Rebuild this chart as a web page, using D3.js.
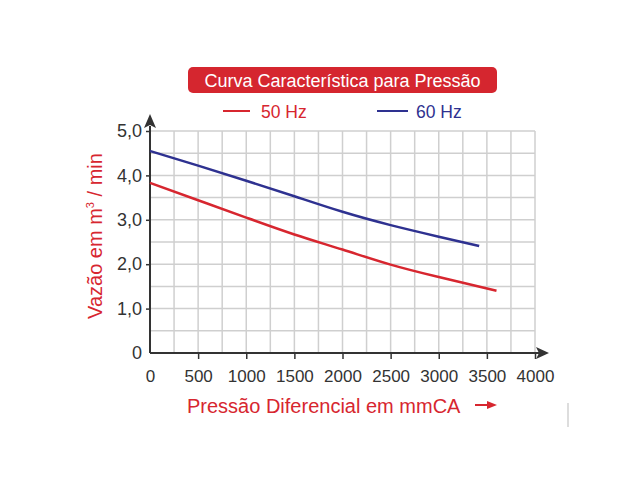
<!DOCTYPE html>
<html>
<head>
<meta charset="utf-8">
<script src="https://cdn.jsdelivr.net/npm/d3@7"></script>
<style>
	body { margin: 0; background: #fff; }
	svg { display: block; font-family: "Liberation Sans", Arial, sans-serif; }
</style>
</head>
<body>
<svg id="chart" width="640" height="480"></svg>
<script>
// values
const pressure50 = [0, 500, 1000, 1500, 2000, 2500, 3000, 3600];
const flow50 = [3.83, 3.44, 3.05, 2.67, 2.33, 1.99, 1.71, 1.40];
const pressure60 = [0, 500, 1000, 1500, 2000, 2500, 3000, 3420];
const flow60 = [4.55, 4.22, 3.88, 3.53, 3.18, 2.88, 2.62, 2.41];

const xTicks = [0, 500, 1000, 1500, 2000, 2500, 3000, 3500, 4000];
const yTicks = [0, 1, 2, 3, 4, 5];
const yTickLabels = ["0", "1,0", "2,0", "3,0", "4,0", "5,0"];

const red = "#d7262f";
const blue = "#2e3190";
const ink = "#333";

let svg = d3.select("#chart");

let x = d3.scaleLinear().domain([0, 4000]).range([150, 535]);
let y = d3.scaleLinear().domain([0, 5]).range([353, 131]);

// grid
let grid = svg.append("g").attr("stroke", "#cfcfcf").attr("stroke-width", 1.5);
d3.range(250, 4001, 250).forEach(v => {
	grid.append("line")
		.attr("x1", x(v)).attr("x2", x(v))
		.attr("y1", y(0)).attr("y2", y(5));
});
d3.range(0.5, 5.01, 0.5).forEach(v => {
	grid.append("line")
		.attr("x1", x(0)).attr("x2", x(4000))
		.attr("y1", y(v)).attr("y2", y(v));
});

// axes
let xAxis = d3.axisBottom(x).tickValues(xTicks).tickSize(6).tickPadding(11)
	.tickFormat(d3.format("d"));
let yAxis = d3.axisLeft(y).tickValues(yTicks).tickSize(4).tickPadding(4)
	.tickFormat((d, i) => yTickLabels[i]);

let gx = svg.append("g").attr("transform", `translate(0,${y(0)})`).call(xAxis);
let gy = svg.append("g").attr("transform", `translate(${x(0)},0)`).call(yAxis);

[gx, gy].forEach(g => {
	g.select(".domain").remove();
	g.selectAll(".tick line").attr("stroke", ink).attr("stroke-width", 1.5);
	g.selectAll(".tick text")
		.attr("fill", ink)
		.style("font-family", "Liberation Sans, Arial, sans-serif");
});
gx.selectAll(".tick text").style("font-size", "17px");
gy.selectAll(".tick text").style("font-size", "18px");
gx.selectAll(".tick").filter(d => d == 0).select("line").remove();
gy.selectAll(".tick").filter(d => d == 0).select("line").remove();

// axis lines with arrows
svg.append("line")
	.attr("x1", x(0)).attr("x2", 540)
	.attr("y1", y(0)).attr("y2", y(0))
	.attr("stroke", ink).attr("stroke-width", 2);
svg.append("line")
	.attr("x1", x(0)).attr("x2", x(0))
	.attr("y1", y(0)).attr("y2", 126)
	.attr("stroke", ink).attr("stroke-width", 2);
svg.append("path")
	.attr("d", `M549,${y(0)} L536,${y(0) - 6} L539,${y(0)} L536,${y(0) + 6} Z`)
	.attr("fill", ink);
svg.append("path")
	.attr("d", `M${x(0)},114 L${x(0) - 6},128 L${x(0)},125 L${x(0) + 6},128 Z`)
	.attr("fill", ink);

// curves
let line = d3.line()
	.x(d => x(d[0]))
	.y(d => y(d[1]))
	.curve(d3.curveNatural);

svg.append("path")
	.datum(d3.zip(pressure50, flow50))
	.attr("d", line)
	.attr("fill", "none")
	.attr("stroke", red)
	.attr("stroke-width", 2.5);

svg.append("path")
	.datum(d3.zip(pressure60, flow60))
	.attr("d", line)
	.attr("fill", "none")
	.attr("stroke", blue)
	.attr("stroke-width", 2.5);

// title box
svg.append("rect")
	.attr("x", 188).attr("y", 67)
	.attr("width", 309).attr("height", 26)
	.attr("rx", 5)
	.attr("fill", "#d5262f");
svg.append("text")
	.attr("x", 342.5).attr("y", 86.5)
	.attr("text-anchor", "middle")
	.attr("fill", "#fff")
	.style("font-size", "18px")
	.text("Curva Característica para Pressão");

// legend
svg.append("line")
	.attr("x1", 223).attr("x2", 250).attr("y1", 111).attr("y2", 111)
	.attr("stroke", red).attr("stroke-width", 2);
svg.append("text")
	.attr("x", 261).attr("y", 117.5)
	.attr("fill", red)
	.style("font-size", "17.5px")
	.text("50 Hz");
svg.append("line")
	.attr("x1", 377).attr("x2", 408).attr("y1", 111).attr("y2", 111)
	.attr("stroke", blue).attr("stroke-width", 2);
svg.append("text")
	.attr("x", 416).attr("y", 117.5)
	.attr("fill", blue)
	.style("font-size", "17.5px")
	.text("60 Hz");

// axis titles
let yTitle = svg.append("text")
	.attr("transform", "translate(102,236) rotate(-90)")
	.attr("text-anchor", "middle")
	.attr("fill", red)
	.style("font-size", "20px");
yTitle.append("tspan").text("Vazão em m");
yTitle.append("tspan").attr("dy", -8).style("font-size", "11px").text("3");
yTitle.append("tspan").attr("dy", 8).text(" / min");

svg.append("text")
	.attr("x", 187).attr("y", 413)
	.attr("fill", red)
	.style("font-size", "20px")
	.text("Pressão Diferencial em mmCA");
svg.append("line")
	.attr("x1", 475).attr("x2", 489).attr("y1", 405).attr("y2", 405)
	.attr("stroke", red).attr("stroke-width", 2);
svg.append("path")
	.attr("d", "M497,405 L487,401 L487,409 Z")
	.attr("fill", red);

// small stray mark at the right
svg.append("line")
	.attr("x1", 568).attr("x2", 568).attr("y1", 403).attr("y2", 427)
	.attr("stroke", "#bbb").attr("stroke-width", 1);
</script>
</body>
</html>
